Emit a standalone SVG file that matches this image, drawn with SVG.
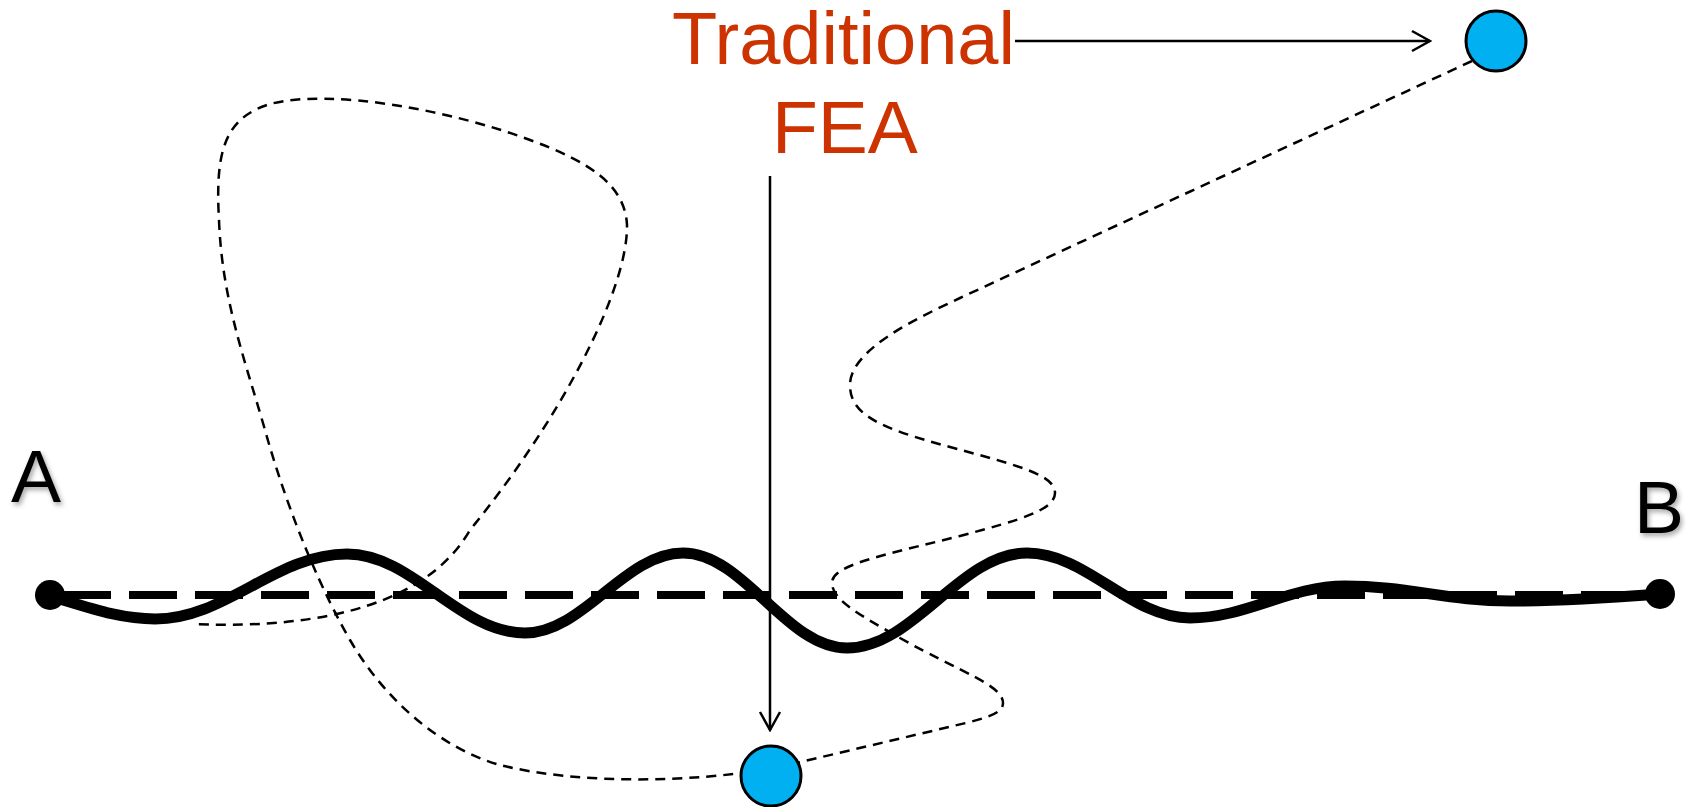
<svg xmlns="http://www.w3.org/2000/svg" width="1691" height="807" viewBox="0 0 1691 807">
  <style>
    .label { font-family: "Liberation Sans", Arial, sans-serif; font-size: 75px; fill: #000; }
    .title { font-family: "Liberation Sans", Arial, sans-serif; font-size: 75px; fill: #CC3300; }
    .state { fill: #00B0F0; stroke: #000; stroke-width: 3; }
    .endpoint { fill: #000; }
    .pointer { fill: none; stroke: #000; stroke-width: 2.5; }
    .path-thin { fill: none; stroke: #000; stroke-width: 2.5; stroke-dasharray: 10 7; }
    .chord { fill: none; stroke: #000; stroke-width: 8; stroke-dasharray: 48 18; }
    .wave { fill: none; stroke: #000; stroke-width: 11; stroke-linecap: round; stroke-linejoin: round; }
  </style>
  <defs>
    <marker id="open-arrow" markerUnits="userSpaceOnUse" viewBox="0 0 22 24" refX="20" refY="12" markerWidth="22" markerHeight="24" orient="auto">
      <path d="M 2 2 L 20 12 L 2 22" fill="none" stroke="#000" stroke-width="2.5"/>
    </marker>
    <filter id="soft-shadow" x="-30%" y="-30%" width="160%" height="160%">
      <feDropShadow dx="2" dy="3" stdDeviation="2.5" flood-color="#000" flood-opacity="0.35"/>
    </filter>
  </defs>

  <rect width="1691" height="807" fill="#fff"/>

  <!-- connectors: thin dashed trajectory, straight chord, deformed wave and pointer arrows -->
  <g id="connectors">
    <path id="trajectory" class="path-thin" d="M 1472 61 L 960 298
      C 915 319, 850 350, 850 385
      C 850 415, 880 428, 950 447
      C 1020 466, 1055 475, 1055 493
      C 1055 510, 1020 520, 960 536
      C 880 556, 832 565, 832 583
      C 832 600, 860 615, 900 638
      C 960 672, 1003 685, 1003 703
      C 1003 712, 992 716, 970 722
      L 771 769
      C 690 782, 580 785, 500 765
      C 440 748, 385 700, 350 640
      C 325 597, 290 520, 265 430
      C 245 360, 222 300, 219 220
      C 215 150, 225 118, 270 104
      C 330 88, 450 110, 530 140
      C 590 162, 625 185, 627 225
      C 628 290, 560 420, 470 530
      C 430 600, 330 630, 193 624"/>
    <line id="chord" class="chord" x1="63" y1="595" x2="1650" y2="595"/>
    <path id="wave" class="wave" d="M 50 596
      C 90 608, 120 619, 155 619
      C 226 619, 276 554, 347 554
      C 413 554, 459 633, 525 633
      C 583 633, 625 553, 683 553
      C 744 553, 786 648, 847 648
      C 914 648, 960 553, 1027 553
      C 1087 553, 1130 618, 1190 618
      C 1247 618, 1288 586, 1345 586
      C 1406 586, 1449 601, 1510 601
      C 1570 601, 1620 597, 1660 594"/>
    <line id="arrow-right" class="pointer" x1="1015" y1="41" x2="1430" y2="41" marker-end="url(#open-arrow)"/>
    <line id="arrow-down" class="pointer" x1="770" y1="176" x2="770" y2="730" marker-end="url(#open-arrow)"/>
  </g>

  <g id="node-A">
    <circle class="endpoint" cx="50" cy="595" r="15"/>
    <text class="label" x="11" y="502" filter="url(#soft-shadow)">A</text>
  </g>

  <g id="node-B">
    <circle class="endpoint" cx="1660" cy="594" r="15"/>
    <text class="label" x="1634" y="533" filter="url(#soft-shadow)">B</text>
  </g>

  <g id="node-top">
    <circle class="state" cx="1496" cy="41" r="30"/>
  </g>

  <g id="node-bottom">
    <circle class="state" cx="771" cy="776" r="30"/>
  </g>

  <g id="node-title">
    <text class="title" x="672" y="64" textLength="343" lengthAdjust="spacingAndGlyphs">Traditional</text>
    <text class="title" x="772" y="153">FEA</text>
  </g>
</svg>
